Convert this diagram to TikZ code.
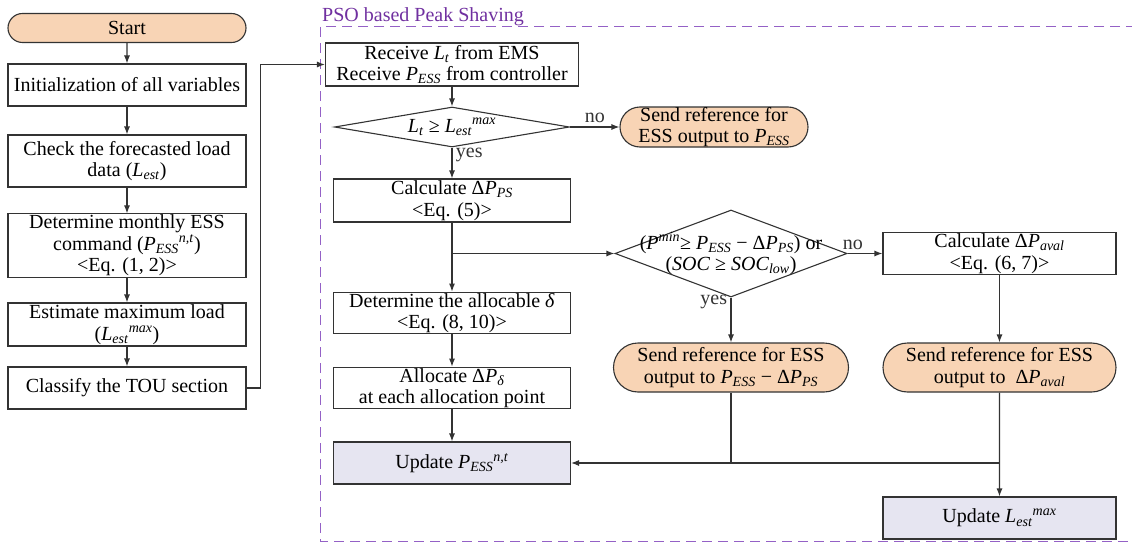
\documentclass[tikz,border=0pt]{standalone}
\usepackage{fontspec}
\setmainfont{Liberation Serif}
\usepackage{xcolor}
\usetikzlibrary{arrows.meta, positioning, shapes.geometric, shapes.misc}
\definecolor{linegray}{HTML}{333333}
\definecolor{termfill}{HTML}{F8D4B5}
\definecolor{updfill}{HTML}{E6E5F1}
\definecolor{psopurple}{HTML}{7030A0}
\definecolor{dashpurple}{HTML}{9461C6}
\newcommand{\vsub}[1]{\textsubscript{\textit{#1}}}
\newcommand{\vsup}[1]{\textsuperscript{\textit{#1}}}

\begin{document}
\begin{tikzpicture}[
  x=1pt, y=-1pt,
  every node/.style={font=\fontsize{20}{21.5}\selectfont},
  block/.style={draw=linegray, line width=1.1pt, fill=white, minimum width=237pt,
                minimum height=42pt, align=center, inner sep=1pt},
  terminal/.style={draw=linegray, line width=1.1pt, rounded rectangle, fill=termfill,
                   align=center, inner sep=0pt},
  update/.style={block, fill=updfill},
  decision/.style={draw=linegray, line width=1.1pt, diamond, fill=white, inner sep=0pt},
  arrow/.style={-{Latex[length=8pt, width=6pt]}, line width=1.1pt, color=linegray},
  link/.style={line width=1.1pt, color=linegray},
]
\useasboundingbox (0,0) rectangle (1132,543);
\clip (0,0) rectangle (1132,543);

% PSO boundary
\draw[dashed, dash pattern=on 10pt off 6pt, line width=1pt, color=dashpurple] (320,27) rectangle (1150,541);
\node[anchor=south west, inner sep=1pt, text=psopurple] (psolabel) at (321,27) {PSO based Peak Shaving};

% Monthly planning
\node[terminal, minimum width=238pt, minimum height=29pt] (start) at (127,28) {Start};
\node[block, minimum width=238pt] (init) at (127,85) {Initialization of all variables};
\node[block, minimum width=238pt, minimum height=52pt] (check) at (127,161)
  {Check the forecasted load\\data (\textit{L}\vsub{est})};
\node[block, minimum width=238pt, minimum height=58pt] (monthly) at (127,245.5)
  {Determine monthly ESS\\command (\textit{P}\vsub{ESS}\vsup{n,t})\\<Eq. (1, 2)>};
\node[block, minimum width=238pt, minimum height=43pt] (estmax) at (127,324.5)
  {Estimate maximum load\\(\textit{L}\vsub{est}\vsup{max})};
\node[block, minimum width=238pt] (tou) at (127,388) {Classify the TOU section};

% Peak shaving
\node[block, minimum width=253pt, minimum height=43pt] (recv) at (452,64.5)
  {Receive \textit{L}\vsub{t} from EMS\\Receive \textit{P}\vsub{ESS} from controller};
\node[decision, minimum width=235pt, minimum height=40pt] (chk1) at (452,127) {};
\node at (chk1) {\textit{L}\vsub{t} ≥ \textit{L}\vsub{est}\vsup{max}};
\node[terminal, minimum width=188pt, minimum height=40pt] (sendp) at (714,127)
  {Send reference for\\ESS output to \textit{P}\vsub{ESS}};
\node[block, minimum height=43pt] (calcps) at (452,200.5)
  {Calculate Δ\textit{P}\vsub{PS}\\<Eq. (5)>};
\node[block, minimum height=41pt] (alloc) at (452,313)
  {Determine the allocable \textit{δ}\\<Eq. (8, 10)>};
\node[block, minimum height=41pt] (assign) at (452,388)
  {Allocate Δ\textit{P}\vsub{δ}\\at each allocation point};
\node[update] (updp) at (452,463) {Update \textit{P}\vsub{ESS}\vsup{n,t}};

\node[decision, minimum width=232pt, minimum height=87pt] (chk2) at (731,253.5) {};
\node[align=center] at (chk2)
  {(\textit{P}\vsup{min}≥ \textit{P}\vsub{ESS} − Δ\textit{P}\vsub{PS}) or\\(\textit{SOC} ≥ \textit{SOC}\vsub{low})};
\node[block, minimum width=233pt, minimum height=41pt] (calcav) at (999.5,253.5)
  {Calculate Δ\textit{P}\vsub{aval}\\<Eq. (6, 7)>};
\node[terminal, minimum width=235pt, minimum height=49pt] (sendps) at (731,367.5)
  {Send reference for ESS\\output to \textit{P}\vsub{ESS} − Δ\textit{P}\vsub{PS}};
\node[terminal, minimum width=233pt, minimum height=49pt] (sendav) at (999.5,367.5)
  {Send reference for ESS\\output to~ Δ\textit{P}\vsub{aval}};
\node[update, minimum width=233pt] (updl) at (999.5,518) {Update \textit{L}\vsub{est}\vsup{max}};

% Arrows
\draw[arrow] (start) -- (init);
\draw[arrow] (init) -- (check);
\draw[arrow] (check) -- (monthly);
\draw[arrow] (monthly) -- (estmax);
\draw[arrow] (estmax) -- (tou);
\draw[arrow] (tou.east) -- ++(14,0) |- (recv.west);

\draw[arrow] (recv) -- (chk1.north);
\draw[arrow] (chk1.east) -- node[above] {no} (sendp.west);
\draw[arrow] (chk1.south) -- node[right, pos=0.25] {yes} (calcps.north);
\draw[arrow] (calcps) -- (alloc);
\draw[arrow] (calcps.south |- chk2.west) -- (chk2.west);
\draw[arrow] (alloc) -- (assign);
\draw[arrow] (assign) -- (updp);

\draw[arrow] (chk2.east) -- node[above, pos=0.15] {no} (calcav.west);
\draw[arrow] (chk2.south) -- node[left, pos=0.1] {yes} (sendps.north);
\draw[arrow] (calcav) -- (sendav);
\draw[link] (sendps.south) -- (sendps.south |- updp.east);
\draw[arrow] (sendav.south |- updp.east) -- (updp.east);
\draw[arrow] (sendav) -- (updl);

\end{tikzpicture}
\end{document}
